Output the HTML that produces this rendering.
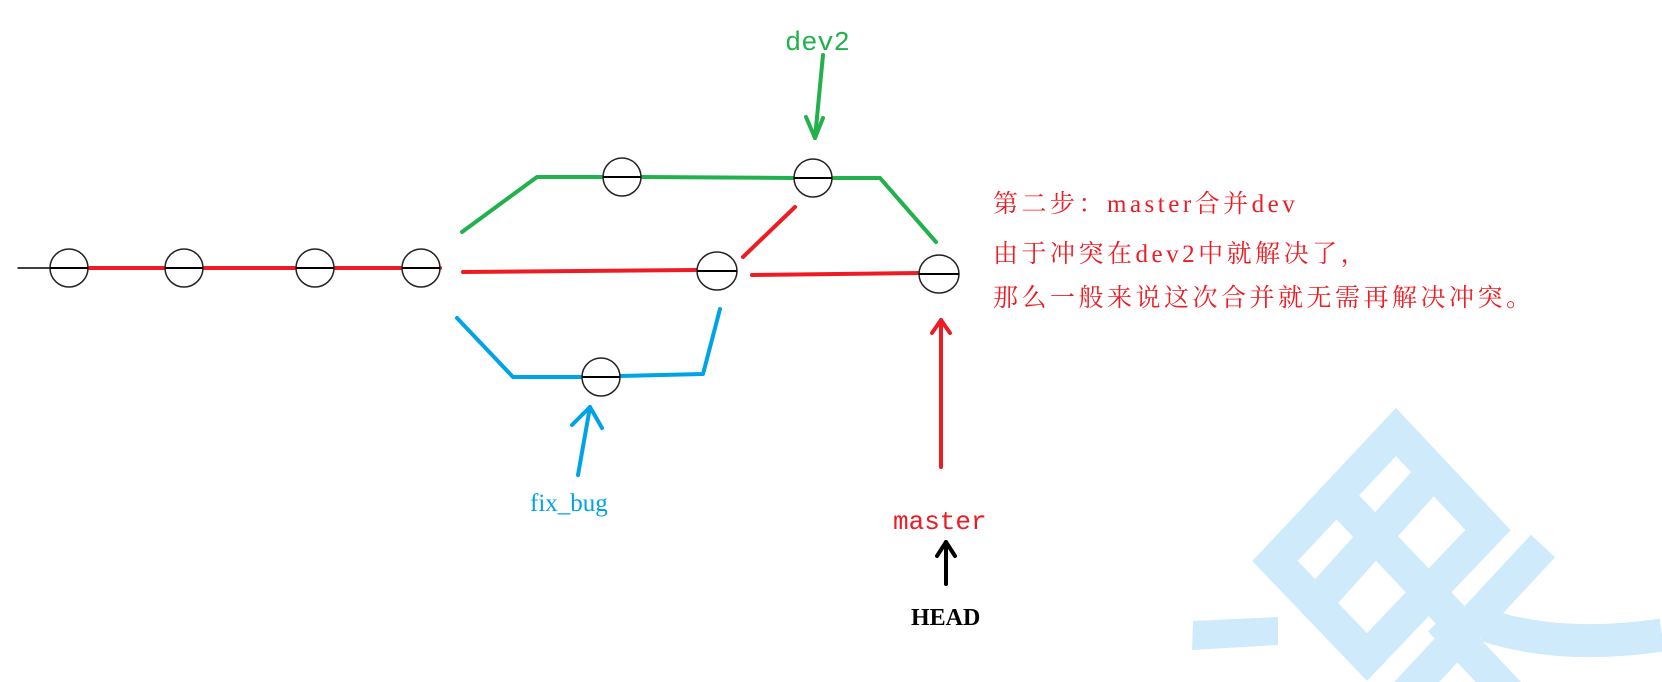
<!DOCTYPE html>
<html><head><meta charset="utf-8"><style>
html,body{margin:0;padding:0;background:#fff;width:1662px;height:682px;overflow:hidden;}
svg{display:block;}
</style></head><body>
<svg width="1662" height="682" viewBox="0 0 1662 682" xmlns="http://www.w3.org/2000/svg">
<g stroke="#cfeafb" stroke-width="33" fill="none" stroke-linejoin="miter">
<polygon points="1396,432 1488,530 1367,657 1275,561"/>
<line x1="1336" y1="495" x2="1455" y2="620"/>
<line x1="1428" y1="478" x2="1316" y2="603"/>
<line x1="1440" y1="620" x2="1534" y2="720"/>
<line x1="1543" y1="546" x2="1400" y2="700"/>
<path d="M1485,625 Q1560,650 1662,635"/>
</g>
<polygon points="1193,621 1278,617 1278,645 1192,650" fill="#cfeafb"/>
<g fill="none" stroke-width="4" stroke-linecap="round" stroke-linejoin="round">
<line x1="18" y1="268" x2="50" y2="268" stroke="#000" stroke-width="1.5"/>
<line x1="88" y1="268" x2="440" y2="268" stroke="#ed1c24"/>
<line x1="463" y1="272" x2="697" y2="270" stroke="#ed1c24"/>
<line x1="752" y1="275" x2="920" y2="273" stroke="#ed1c24"/>
<line x1="743" y1="257" x2="795" y2="207" stroke="#ed1c24"/>
<polyline points="462,232 537,177 603,177" stroke="#22b14c"/>
<line x1="641" y1="177" x2="793" y2="178" stroke="#22b14c"/>
<polyline points="833,178 880,178 936,242" stroke="#22b14c"/>
<polyline points="457,318 513,377 581,377" stroke="#00a2e8"/>
<polyline points="620,376 703,374 720,309" stroke="#00a2e8"/>
<line x1="823" y1="55" x2="815" y2="138" stroke="#22b14c"/>
<polyline points="806,117 815,138 823,118" stroke="#22b14c"/>
<line x1="578" y1="475" x2="590" y2="407" stroke="#00a2e8"/>
<polyline points="572,425 590,407 602,428" stroke="#00a2e8"/>
<line x1="941" y1="467" x2="941" y2="320" stroke="#ed1c24"/>
<polyline points="932,333 941,320 950,333" stroke="#ed1c24"/>
<line x1="946" y1="584" x2="946" y2="542" stroke="#000"/>
<polyline points="937,556 946,542 955,556" stroke="#000"/>
</g>
<g fill="#fff" stroke="#222" stroke-width="1.5">
<ellipse cx="69" cy="268" rx="19" ry="19"/>
<ellipse cx="184" cy="268" rx="19" ry="19"/>
<ellipse cx="315" cy="268" rx="19" ry="19"/>
<ellipse cx="421" cy="268" rx="19" ry="19"/>
<ellipse cx="622" cy="177" rx="19" ry="19"/>
<ellipse cx="813" cy="178" rx="19" ry="19"/>
<ellipse cx="717" cy="271" rx="20" ry="19"/>
<ellipse cx="601" cy="377" rx="19" ry="19"/>
<ellipse cx="939" cy="274" rx="20" ry="19"/>
</g>
<g stroke="#000" stroke-width="2">
<line x1="50" y1="268" x2="88" y2="268"/>
<line x1="165" y1="268" x2="203" y2="268"/>
<line x1="296" y1="268" x2="334" y2="268"/>
<line x1="402" y1="268" x2="440" y2="268"/>
<line x1="603" y1="177" x2="641" y2="177"/>
<line x1="794" y1="178" x2="832" y2="178"/>
<line x1="697" y1="271" x2="737" y2="271"/>
<line x1="582" y1="377" x2="620" y2="377"/>
<line x1="919" y1="274" x2="959" y2="274"/>
</g>
<text x="785" y="50" font-family="Liberation Mono, monospace" font-size="27" fill="#22b14c">dev2</text>
<text x="530" y="511" font-family="Liberation Serif, serif" font-size="25" fill="#00a2e8">fix_bug</text>
<text x="893" y="529" font-family="Liberation Mono, monospace" font-size="26" fill="#ed1c24">master</text>
<text x="911" y="625" font-family="Liberation Serif, serif" font-weight="bold" font-size="24" fill="#000">HEAD</text>
<g font-family="Liberation Serif, 'Noto Serif CJK SC', serif" font-size="25" fill="#ed1c24" letter-spacing="3.5">
<text x="993" y="212">第二步：master合并dev</text>
<text x="993" y="262">由于冲突在dev2中就解决了，</text>
<text x="993" y="306">那么一般来说这次合并就无需再解决冲突。</text>
</g>
</svg>
</body></html>
